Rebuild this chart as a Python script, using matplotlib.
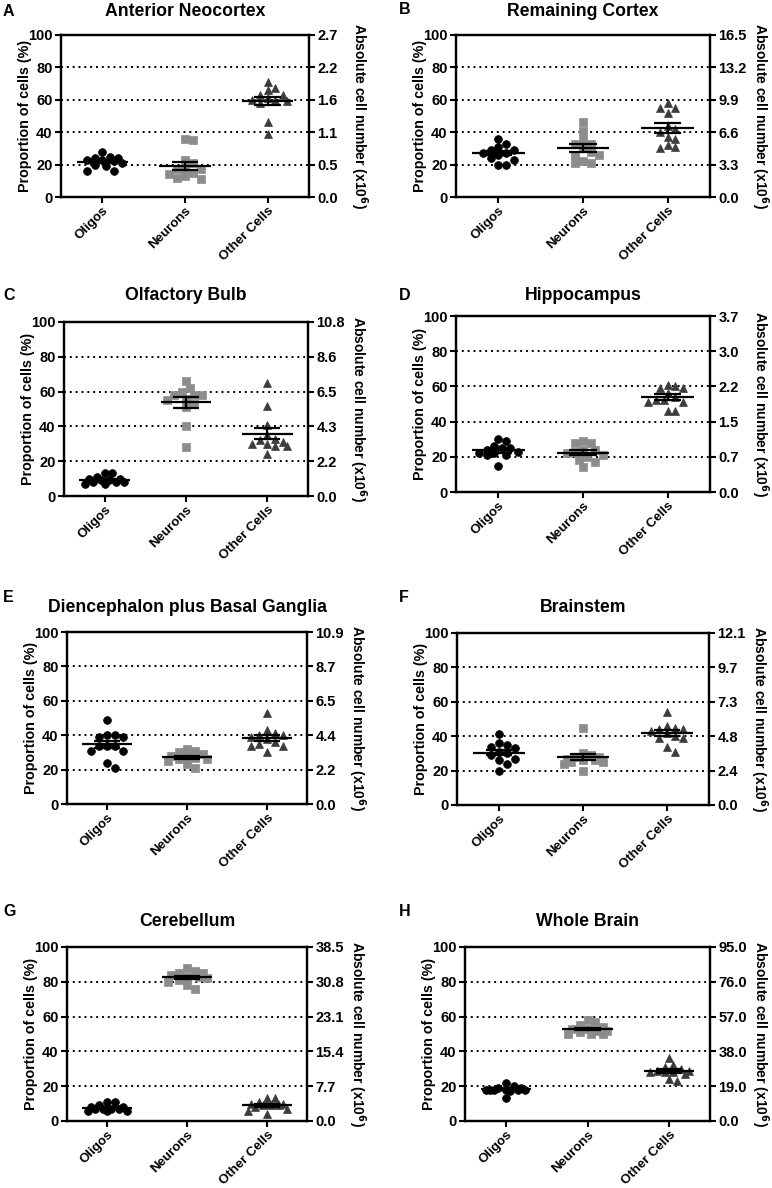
import numpy as np
import matplotlib
matplotlib.use("Agg")
import matplotlib.pyplot as plt

plt.rcParams['font.family'] = ['Liberation Sans', 'DejaVu Sans']
plt.rcParams['font.weight'] = 'bold'

# ---------------- data ----------------
categories = ["Oligos", "Neurons", "Other Cells"]
titles = ["Anterior Neocortex", "Remaining Cortex", "Olfactory Bulb", "Hippocampus",
          "Diencephalon plus Basal Ganglia", "Brainstem", "Cerebellum", "Whole Brain"]
letters = ["A", "B", "C", "D", "E", "F", "G", "H"]
right_max = [2.7, 16.5, 10.8, 3.7, 10.9, 12.1, 38.5, 95.0]

oligos = [
    [25, 23, 24, 22, 23, 24, 28, 21, 19, 20, 16, 16],
    [36, 33, 29, 31, 27, 24, 20, 20, 27, 26, 29, 23],
    [13, 13, 11, 10, 9, 9, 8, 8, 7, 7, 8, 10],
    [30, 29, 26, 25, 24, 23, 22, 21, 21, 22, 15, 25],
    [49, 40, 40, 39, 39, 34, 34, 34, 31, 31, 24, 21],
    [41, 36, 35, 34, 33, 31, 30, 29, 27, 26, 24, 20],
    [11, 11, 9, 8, 8, 7, 7, 7, 6, 6, 6, 7],
    [22, 20, 19, 19, 18, 18, 18, 18, 18, 17, 18, 13],
]
neurons = [
    [35, 36, 23, 18, 17, 14, 13, 11, 12, 17, 21, 15],
    [46, 41, 36, 33, 33, 26, 26, 22, 21, 21, 30, 28],
    [66, 62, 58, 58, 58, 56, 55, 53, 51, 40, 28, 60],
    [29, 28, 28, 24, 24, 23, 22, 20, 17, 18, 14, 21],
    [32, 31, 30, 29, 28, 28, 27, 26, 26, 25, 23, 21],
    [45, 30, 29, 28, 28, 27, 26, 25, 24, 25, 26, 20],
    [88, 86, 85, 85, 84, 83, 83, 82, 81, 80, 78, 76],
    [58, 57, 55, 54, 53, 53, 52, 52, 51, 50, 50, 50],
]
others = [
    [71, 67, 66, 63, 63, 60, 59, 58, 60, 61, 46, 39],
    [58, 55, 55, 52, 40, 37, 36, 32, 30, 31, 44, 42],
    [65, 52, 41, 35, 33, 32, 31, 30, 29, 29, 30, 24],
    [61, 59, 59, 60, 56, 54, 52, 52, 51, 51, 46, 46],
    [53, 43, 41, 40, 40, 39, 38, 36, 35, 34, 34, 30],
    [54, 46, 45, 44, 44, 43, 42, 40, 39, 39, 34, 31],
    [13, 13, 11, 10, 10, 9, 9, 9, 8, 7, 6, 4],
    [36, 32, 31, 30, 29, 29, 28, 28, 28, 27, 23, 24],
]

# ---------------- style ----------------
markers = ['o', 's', '^']
colors = ['#000000', '#8c8c8c', '#3c3c3c']
msizes = [5.6, 5.2, 6.0]

W, H = 772, 1188
fig = plt.figure(figsize=(W / 100, H / 100), dpi=100)

# axes boxes in pixels: left, right, top, bottom
boxes = [
    (61, 309, 35, 197), (456, 710, 35, 197),
    (64, 308, 322, 496), (456, 710, 316, 492),
    (67, 307, 632, 804), (457, 709, 633, 805),
    (67, 307, 947, 1121), (465, 710, 947, 1121),
]
title_y = [11, 11, 296, 296, 607, 607, 922, 922]
letter_pos = [(3, 11), (399, 9), (3, 296), (399, 296), (3, 598), (399, 598), (3, 912), (399, 912)]

FS = 10.5
XFS = 9.5

def swarm(ax, x0, vals, d=7.8, maxw_units=0.27):
    vals = np.asarray(vals, float)
    pix = ax.transData.transform(np.column_stack([np.full(len(vals), x0), vals]))
    ys = pix[:, 1]
    xpx = ax.transData.transform((1, 0))[0] - ax.transData.transform((0, 0))[0]
    maxw = maxw_units * xpx
    order = np.argsort(-vals, kind='stable')
    placed = []
    off = np.zeros(len(vals))
    cands = [0.0]
    k = 1
    while k * d / 2 <= maxw + 1e-9:
        cands += [k * d / 2, -k * d / 2]
        k += 1
    for i in order:
        best, bestd = 0.0, -1.0
        for c in cands:
            md = min([np.hypot(px - c, py - ys[i]) for (px, py) in placed], default=1e9)
            if md >= d * 0.98:
                best = c
                break
            if md > bestd:
                best, bestd = c, md
        off[i] = best
        placed.append((best, ys[i]))
    return x0 + off / xpx

for p in range(8):
    l, r, t, b = boxes[p]
    ax = fig.add_axes([l / W, 1 - b / H, (r - l) / W, (b - t) / H])
    ax.set_xlim(-0.5, 2.5)
    ax.set_ylim(0, 100)
    ax.set_yticks([0, 20, 40, 60, 80, 100])
    ax.set_xticks([0, 1, 2])
    ax.set_xticklabels(categories, rotation=45, ha='right', rotation_mode='anchor',
                       fontsize=XFS, fontweight='bold')
    for lab in ax.get_yticklabels():
        lab.set_fontsize(FS)
        lab.set_fontweight('bold')
    for yv in [20, 40, 60, 80]:
        ax.axhline(yv, color='black', lw=1.4, ls=(0, (1, 2.0)), zorder=0)
    for s in ax.spines.values():
        s.set_linewidth(1.6)
    ax.tick_params(axis='both', direction='out', length=4, width=1.5, pad=2)
    ax.tick_params(axis='x', pad=1.5)

    groups = [oligos[p], neurons[p], others[p]]
    for gi, vals in enumerate(groups):
        xs = swarm(ax, gi, vals)
        ax.plot(xs, vals, ls='none', marker=markers[gi], ms=msizes[gi],
                mfc=colors[gi], mec=colors[gi], mew=0.5, zorder=3)
        v = np.asarray(vals, float)
        m = v.mean()
        sem = v.std(ddof=1) / np.sqrt(len(v))
        ax.plot([gi - 0.31, gi + 0.31], [m, m], color='black', lw=1.6, zorder=4,
                solid_capstyle='butt')
        ax.plot([gi, gi], [m - sem, m + sem], color='black', lw=1.6, zorder=4)
        for yy in (m - sem, m + sem):
            ax.plot([gi - 0.16, gi + 0.16], [yy, yy], color='black', lw=1.6, zorder=4,
                    solid_capstyle='butt')

    ax2 = ax.twinx()
    ax2.set_ylim(0, right_max[p])
    rt = np.linspace(0, right_max[p], 6)
    ax2.set_yticks(rt)
    ax2.set_yticklabels([f"{v:.1f}" for v in rt], fontsize=FS, fontweight='bold')
    ax2.tick_params(axis='y', direction='out', length=4, width=1.5, pad=2)
    for s in ax2.spines.values():
        s.set_linewidth(1.6)

    yc = 1 - (t + b) / 2 / H
    fig.text((l - 36) / W, yc, "Proportion of cells (%)", rotation=90, ha='center',
             va='center', fontsize=10.3, fontweight='bold')
    fig.text((r + 50) / W, yc, "Absolute cell number (x10$^{\\mathbf{6}}$)", rotation=270,
             ha='center', va='center', fontsize=10.0, fontweight='bold')

    fig.text((l + r) / 2 / W, 1 - title_y[p] / H, titles[p], ha='center', va='center',
             fontsize=12.7, fontweight='bold')
    lx, ly = letter_pos[p]
    fig.text(lx / W, 1 - ly / H, letters[p], ha='left', va='center', fontsize=11.5,
             fontweight='bold')

fig.savefig("out.png", dpi=100)
